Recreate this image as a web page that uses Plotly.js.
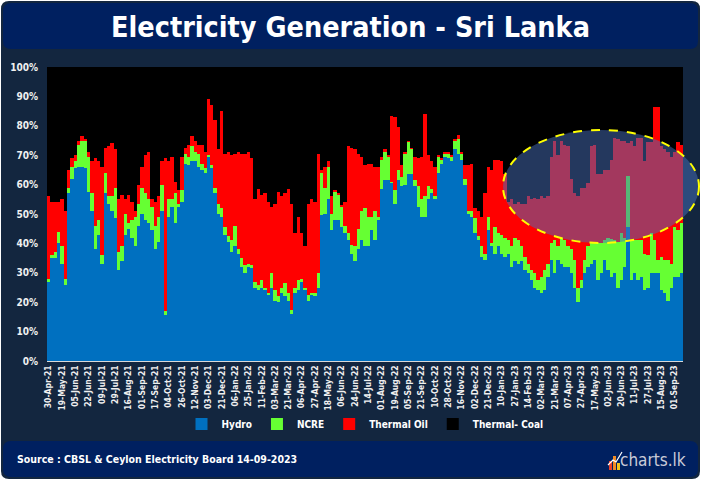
<!DOCTYPE html>
<html>
<head>
<meta charset="utf-8">
<script src="https://cdn.plot.ly/plotly-3.0.1.min.js"></script>
<style>
  html, body { margin: 0; padding: 0; background: #ffffff; }
  #chart { width: 701px; height: 480px; }
</style>
</head>
<body>
<div id="chart"></div>
<script>
// ---- Data (share of daily generation, %) ----
const tickLabels = ["30-Apr-21","19-May-21","05-Jun-21","22-Jun-21","09-Jul-21","29-Jul-21","16-Aug-21","01-Sep-21","17-Sep-21","04-Oct-21","26-Oct-21","12-Nov-21","03-Dec-21","21-Dec-21","06-Jan-22","25-Jan-22","11-Feb-22","03-Mar-22","21-Mar-22","06-Apr-22","27-Apr-22","18-May-22","06-Jun-22","24-Jun-22","14-Jul-22","01-Aug-22","19-Aug-22","05-Sep-22","21-Sep-22","10-Oct-22","28-Oct-22","16-Nov-22","02-Dec-22","21-Dec-22","10-Jan-23","27-Jan-23","14-Feb-23","02-Mar-23","21-Mar-23","07-Apr-23","27-Apr-23","17-May-23","02-Jun-23","20-Jun-23","11-Jul-23","27-Jul-23","15-Aug-23","01-Sep-23"];

const hydro = [27,35,35,40,33,26,57,62,65.5,66,
66,65.5,57.5,51,38,43,33,57,53.5,51,
48.5,31,34,43,45,42,39,46,50,48,
47,44.5,38,40.5,51,15.5,49,52.5,47,52.5,
54,67,66.5,68,68,66,65,64,69.5,65.5,
57,50,49,43,40.5,37,39,36.5,32,30,
32,31.5,25,24,25,24,22.5,25,20.5,20,
23,22,20.5,16,23,24,27,24,20.5,22.5,
22,25,49.5,50,55,44.5,48,48,45.5,43.5,
41,36.5,34,38,41,39,39,44.5,41,48,
58.5,61.5,61.5,60.5,53.5,61.5,59.5,60,63.5,63.5,
59.5,52.5,49,49,55,57,55,64,67,69.5,
69,68,72,70.5,68.5,60,50,49,43.5,41,
35.5,34.5,44.5,39,36.5,39,36.5,35.5,36.5,32,
34,33,34,31,30,27.5,25,24,23,24,
28.5,34.5,30,34.5,33,32,32,30,25,20,
25,30,32,33,34.5,27.5,30,34.5,31,28.5,
30,25,27.5,32,45.5,27.5,30,27.5,28.5,24,
25,30,30,30,24,23,20.5,25,28.5,28.5,30];

const ncre = [1,1,2,4,6,2,2,4,2.5,7.5,
9,9.5,12,6,8,5,3,7,2.5,5,
10.5,6,5,7,2,6,10,7.5,9,9,
8,8,8,8.5,9,1.5,6,2.5,10,1,
4,3.5,3,5,3,4.5,2,1.5,0.5,1,
2,3.5,3,2.5,2,4,7,1.5,3,2.5,
1,1,2,2,2.5,1,0.5,5,3.5,2,
2,4.5,2.5,1.5,2,3.5,1,1,2,0.5,
1,5,14.5,9,11,5.5,9.5,8.5,7,2.5,
2.5,3,5,7,10,13,10,4.5,10,1,
10,9.5,8,0.5,4.5,3.5,3,10.5,11,8.5,
2,7,6,7,4.5,1.5,1,5.5,1.5,1,
1.5,1.5,3,5,2,2,1,2,5,1.5,
3.5,2,4.5,1,9,4.5,6.5,6.5,4.5,7,
8,8,5,4.5,3,3.5,5,3.5,5.5,7,
4.5,5.5,11,4.5,9,9,7,8,9.5,5,
2.5,4.5,7,7,5.5,12.5,10,6.5,11,13,
11,15.5,16,10,17.5,13.5,11,13.5,12.5,12.5,
11,13.5,11,4.5,11.5,11.5,14,8,17,16,17];

const thermalOil = [28,18,17,10,16,23,6,3,2,1.5,
1.5,0.5,1.5,11,23,20,30,8.5,17,18,
13,18,17.5,5,9.5,6,2,6.5,7,13,
16,2.5,8,7,8,52,13,14.5,4,4.5,
11.5,2,4,3.5,4,3,6.5,5.5,19,20.5,
23,18.5,33,25,28.5,29,24.5,33,35.5,38,
38,36.5,28,32.5,29,32,31,22.5,29.5,35.5,
31,30.5,35.5,36,18.5,21.5,15.5,14,31,32,
31,40.5,1,7,2,6,0.5,0.5,0.5,8,
29.5,33,33,25.5,18.5,14.5,18,18,15,17,
1,1,0.5,22.5,25,14.5,4,0.5,0.5,0.5,
8,9.5,14.5,28,10.5,9.5,10,0.5,0.5,0.5,
0.5,0.5,0.5,1.5,0.5,4.5,15.5,16,3.5,8.5,
10,20.5,17,25,23,25,25,21.5,13,16,
11.5,13,14.5,18,23,24,25.5,27.5,27.5,24.5,
23,29.5,34,31,33,32.5,34,24,22.5,31,
31.5,24.5,21.5,33,33.5,23.5,23.5,24,23,27,
35,35,31.5,33,11,34,32,35,35,31.5,
38.5,31,45.5,52,37.5,37.5,36.5,36.5,25.5,30,26.5];

const thermalCoal = [44,46,46,46,45,49,35,31,30,25,
23.5,24.5,29,32,31,32,34,27.5,27,26,
28,45,43.5,45,43.5,46,49,40,34,30,
29,45,46,44,32,31,32,30.5,39,42,
30.5,27.5,26.5,23.5,25,26.5,26.5,29,11,13,
18,28,15,29.5,29,30,29.5,29,29.5,29.5,
29,31,45,41.5,43.5,43,46,47.5,46.5,42.5,
44,43,41.5,46.5,56.5,51,56.5,61,46.5,45,
46,29.5,35,34,32,44,42,43,47,46,
27,27.5,28,29.5,30.5,33.5,33,33,34,34,
30.5,28,30,16.5,17,20.5,33.5,29,25,27.5,
30.5,31,30.5,16,30,32,34,30,31,29,
29,30,24.5,23,29,33.5,33.5,33,48,49,
51,43,34,35,31.5,31.5,32,36.5,46,45,
46.5,46,46.5,46.5,44,45,44.5,45,44,44.5,
44,30.5,25,30,25,26.5,27,38,43,44,
41,41,39.5,27,26.5,36.5,36.5,35,35,31.5,
24,24.5,25,25,26,25,27,24,24,32,
25.5,25.5,13.5,13.5,27,28,29,30.5,29,25.5,26.5];

const seriesNames = ["Hydro", "NCRE", "Thermal Oil", "Thermal- Coal"];
const seriesColors = ["#0070c0", "#66ff33", "#ff0000", "#000000"];
const TICK_STEP = 4; // samples between labelled ticks

// ---- Build traces ----
const xIdx = hydro.map((_, i) => i);
const allSeries = [hydro, ncre, thermalOil, thermalCoal];
const traces = allSeries.map((vals, k) => ({
  type: "bar",
  x: xIdx,
  y: vals,
  name: seriesNames[k],
  marker: { color: seriesColors[k], line: { width: 0 } },
  hoverinfo: "skip"
}));

// ---- Layout helpers (pixel -> paper) ----
const PL = 47, PR = 683, PT = 67, PB = 361;
const px = x => (x - PL) / (PR - PL);
const py = y => (PB - y) / (PB - PT);
function roundRect(x0, y0, x1, y1, r) {
  const rx = r / (PR - PL), ry = r / (PB - PT);
  const a = px(x0), b = px(x1), top = py(y0), bot = py(y1);
  return `M${a+rx},${top} L${b-rx},${top} Q${b},${top} ${b},${top-ry} L${b},${bot+ry} Q${b},${bot} ${b-rx},${bot} ` +
         `L${a+rx},${bot} Q${a},${bot} ${a},${bot+ry} L${a},${top-ry} Q${a},${top} ${a+rx},${top} Z`;
}
const FONT = '"DejaVu Sans Condensed", "Liberation Sans Narrow", "Arial Narrow", sans-serif';
const NAVY = "#13263f", BANNER = "#002060";

const shapes = [
  { type: "path", xref: "paper", yref: "paper", layer: "below", path: roundRect(1, 1, 700, 479, 8), fillcolor: NAVY, line: { width: 0 } },
  { type: "path", xref: "paper", yref: "paper", layer: "below", path: roundRect(3, 3, 698, 49, 8), fillcolor: BANNER, line: { width: 0 } },
  { type: "path", xref: "paper", yref: "paper", layer: "below", path: roundRect(3, 441, 698, 477, 8), fillcolor: BANNER, line: { width: 0 } },
  // highlight ellipse
  { type: "circle", xref: "paper", yref: "paper", layer: "above",
    x0: px(503), x1: px(699), y0: py(243), y1: py(130),
    fillcolor: "rgba(72,112,188,0.5)", line: { color: "#ffff00", width: 2, dash: "dash" } },
  // logo icon bars
  { type: "rect", xref: "paper", yref: "paper", layer: "above", x0: px(609), x1: px(612), y0: py(470), y1: py(461), fillcolor: "#e8402a", line: { width: 0 } },
  { type: "rect", xref: "paper", yref: "paper", layer: "above", x0: px(613), x1: px(616), y0: py(470), y1: py(456), fillcolor: "#f08a24", line: { width: 0 } },
  { type: "rect", xref: "paper", yref: "paper", layer: "above", x0: px(617), x1: px(620), y0: py(470), y1: py(463), fillcolor: "#f5c518", line: { width: 0 } },
  { type: "path", xref: "paper", yref: "paper", layer: "above",
    path: `M${px(608)},${py(465)} L${px(613)},${py(460)} L${px(616)},${py(462)} L${px(622)},${py(452)}`,
    line: { color: "#ffffff", width: 1.2 } }
];

const layout = {
  width: 701, height: 480,
  margin: { l: PL, r: 701 - PR, t: PT, b: 480 - PB, pad: 0 },
  paper_bgcolor: "#ffffff",
  plot_bgcolor: "#000000",
  barmode: "stack",
  bargap: 0,
  font: { family: FONT, color: "#ffffff" },
  title: {
    text: "Electricity Generation - Sri Lanka",
    xref: "container", yref: "container", x: 0.5, y: 1 - 27 / 480,
    xanchor: "center", yanchor: "middle",
    font: { family: FONT, size: 28.5, color: "#ffffff", weight: "bold" }
  },
  xaxis: {
    range: [-0.5, hydro.length - 0.5],
    tickmode: "array",
    tickvals: tickLabels.map((_, k) => k * TICK_STEP),
    ticktext: tickLabels,
    tickangle: -90,
    tickfont: { family: FONT, size: 8.5, color: "#f0f0f0", weight: "bold" },
    showgrid: false, zeroline: false,
    showline: true, linecolor: "#d9d9d9", linewidth: 1,
    ticks: "", fixedrange: true
  },
  yaxis: {
    range: [0, 100],
    tickmode: "array",
    tickvals: [0,10,20,30,40,50,60,70,80,90,100],
    ticktext: ["0%","10%","20%","30%","40%","50%","60%","70%","80%","90%","100%"],
    tickfont: { family: FONT, size: 10, color: "#f0f0f0", weight: "bold" },
    ticklabelstandoff: 8,
    showgrid: false, zeroline: false, showline: false,
    ticks: "", fixedrange: true
  },
  legend: {
    orientation: "h", x: 0.5, xanchor: "center", y: py(424), yanchor: "middle",
    bgcolor: "rgba(0,0,0,0)",
    font: { family: FONT, size: 10, color: "#ffffff", weight: "bold" },
    itemwidth: 30, traceorder: "normal"
  },
  shapes: shapes,
  annotations: [
    { xref: "paper", yref: "paper", x: px(15), y: py(459), xanchor: "left", yanchor: "middle", showarrow: false,
      text: "Source : CBSL & Ceylon Electricity Board 14-09-2023",
      font: { family: FONT, size: 10.5, color: "#ffffff", weight: "bold" } },
    { xref: "paper", yref: "paper", x: px(688), y: py(460), xanchor: "right", yanchor: "middle", showarrow: false,
      text: "charts.lk",
      font: { family: FONT, size: 17, color: "#c9cbd8" } }
  ],
  showlegend: true
};

Plotly.newPlot("chart", traces, layout, { displayModeBar: false, staticPlot: true });
</script>
</body>
</html>
